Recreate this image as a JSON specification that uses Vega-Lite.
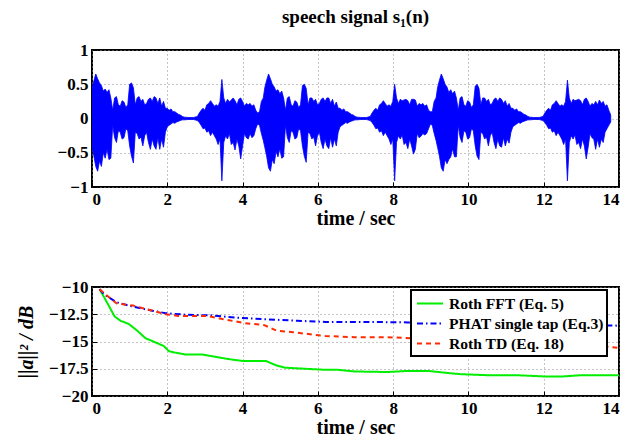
{
  "$schema": "https://vega.github.io/schema/vega-lite/v6.json",
  "background": "white",
  "padding": {"left": 15, "top": 7, "right": 9, "bottom": 4},
  "spacing": 48,
  "config": {
    "font": "Liberation Serif",
    "view": {"stroke": "black", "strokeWidth": 2},
    "axis": {
      "labelFont": "Liberation Serif", "labelFontWeight": "bold", "labelFontSize": 17, "labelColor": "black", "labelOverlap": false,
      "titleFont": "Liberation Serif", "titleFontWeight": "bold", "titleFontSize": 20, "titleColor": "black",
      "domain": false, "tickColor": "black", "tickSize": -5, "tickWidth": 1,
      "grid": true, "gridColor": "#8a8a8a", "gridDash": [1, 3], "gridWidth": 1, "gridOpacity": 1,
      "labelPadding": 9
    },
    "legend": {"strokeWidth": 2},
    "title": {"font": "Liberation Serif", "fontWeight": "bold", "fontSize": 19, "color": "black", "offset": 14}
  },
  "datasets": {
    "sig": [
      {"t":0,"hi":0.45,"lo":-0.40},{"t":0.05,"hi":0.55,"lo":-0.55},{"t":0.10,"hi":0.65,"lo":-0.70},{"t":0.15,"hi":0.58,"lo":-0.77},{"t":0.20,"hi":0.52,"lo":-0.62},{"t":0.25,"hi":0.48,"lo":-0.70},{"t":0.30,"hi":0.40,"lo":-0.50},{"t":0.35,"hi":0.43,"lo":-0.58},{"t":0.40,"hi":0.38,"lo":-0.45},{"t":0.45,"hi":0.42,"lo":-0.60},{"t":0.50,"hi":0.30,"lo":-0.58},{"t":0.55,"hi":0.12,"lo":-0.10},{"t":0.60,"hi":0.30,"lo":-0.28},{"t":0.65,"hi":0.32,"lo":-0.35},{"t":0.70,"hi":0.20,"lo":-0.18},{"t":0.75,"hi":0.18,"lo":-0.20},{"t":0.80,"hi":0.26,"lo":-0.30},{"t":0.85,"hi":0.24,"lo":-0.28},{"t":0.90,"hi":0.16,"lo":-0.15},{"t":0.95,"hi":0.20,"lo":-0.18},
      {"t":1.00,"hi":0.50,"lo":-0.40},{"t":1.05,"hi":0.52,"lo":-0.55},{"t":1.10,"hi":0.45,"lo":-0.65},{"t":1.15,"hi":0.20,"lo":-0.20},{"t":1.20,"hi":0.30,"lo":-0.22},{"t":1.25,"hi":0.32,"lo":-0.30},{"t":1.30,"hi":0.25,"lo":-0.27},{"t":1.35,"hi":0.28,"lo":-0.40},{"t":1.40,"hi":0.20,"lo":-0.25},{"t":1.45,"hi":0.22,"lo":-0.20},{"t":1.50,"hi":0.28,"lo":-0.35},{"t":1.55,"hi":0.30,"lo":-0.45},{"t":1.60,"hi":0.25,"lo":-0.30},{"t":1.65,"hi":0.32,"lo":-0.40},{"t":1.70,"hi":0.30,"lo":-0.45},{"t":1.75,"hi":0.22,"lo":-0.28},{"t":1.80,"hi":0.30,"lo":-0.45},{"t":1.85,"hi":0.18,"lo":-0.30},{"t":1.90,"hi":0.25,"lo":-0.42},{"t":1.95,"hi":0.15,"lo":-0.20},
      {"t":2.00,"hi":0.15,"lo":-0.12},{"t":2.05,"hi":0.12,"lo":-0.10},{"t":2.10,"hi":0.14,"lo":-0.08},{"t":2.15,"hi":0.10,"lo":-0.06},{"t":2.20,"hi":0.10,"lo":-0.07},{"t":2.25,"hi":0.08,"lo":-0.05},{"t":2.30,"hi":0.06,"lo":-0.04},{"t":2.35,"hi":0.05,"lo":-0.03},{"t":2.40,"hi":0.03,"lo":-0.02},{"t":2.45,"hi":0.02,"lo":-0.02},{"t":2.55,"hi":0.015,"lo":-0.015},{"t":2.70,"hi":0.015,"lo":-0.015},{"t":2.80,"hi":0.03,"lo":-0.03},{"t":2.85,"hi":0.08,"lo":-0.06},{"t":2.90,"hi":0.12,"lo":-0.10},{"t":2.95,"hi":0.15,"lo":-0.15},
      {"t":3.00,"hi":0.12,"lo":-0.14},{"t":3.05,"hi":0.20,"lo":-0.20},{"t":3.10,"hi":0.22,"lo":-0.18},{"t":3.15,"hi":0.26,"lo":-0.25},{"t":3.20,"hi":0.22,"lo":-0.20},{"t":3.25,"hi":0.18,"lo":-0.25},{"t":3.30,"hi":0.20,"lo":-0.30},{"t":3.35,"hi":0.18,"lo":-0.38},{"t":3.40,"hi":0.25,"lo":-0.30},{"t":3.45,"hi":0.57,"lo":-0.91},{"t":3.50,"hi":0.30,"lo":-0.35},{"t":3.55,"hi":0.22,"lo":-0.25},{"t":3.60,"hi":0.28,"lo":-0.30},{"t":3.65,"hi":0.24,"lo":-0.22},{"t":3.70,"hi":0.27,"lo":-0.38},{"t":3.75,"hi":0.30,"lo":-0.35},{"t":3.80,"hi":0.26,"lo":-0.46},{"t":3.85,"hi":0.20,"lo":-0.30},{"t":3.90,"hi":0.28,"lo":-0.40},{"t":3.95,"hi":0.30,"lo":-0.59},
      {"t":4.00,"hi":0.25,"lo":-0.40},{"t":4.05,"hi":0.18,"lo":-0.22},{"t":4.10,"hi":0.22,"lo":-0.28},{"t":4.15,"hi":0.20,"lo":-0.30},{"t":4.20,"hi":0.22,"lo":-0.22},{"t":4.25,"hi":0.18,"lo":-0.28},{"t":4.30,"hi":0.20,"lo":-0.25},{"t":4.35,"hi":0.12,"lo":-0.15},{"t":4.40,"hi":0.08,"lo":-0.08},{"t":4.45,"hi":0.10,"lo":-0.10},{"t":4.50,"hi":0.25,"lo":-0.22},{"t":4.55,"hi":0.30,"lo":-0.32},
      {"t":4.59,"hi":0.45,"lo":-0.42},{"t":4.64,"hi":0.56,"lo":-0.55},{"t":4.69,"hi":0.65,"lo":-0.72},{"t":4.74,"hi":0.58,"lo":-0.77},{"t":4.79,"hi":0.50,"lo":-0.60},{"t":4.84,"hi":0.46,"lo":-0.66},{"t":4.89,"hi":0.40,"lo":-0.48},{"t":4.94,"hi":0.42,"lo":-0.56},{"t":4.99,"hi":0.36,"lo":-0.44},{"t":5.04,"hi":0.40,"lo":-0.58},{"t":5.09,"hi":0.30,"lo":-0.56},{"t":5.14,"hi":0.12,"lo":-0.10},{"t":5.19,"hi":0.30,"lo":-0.28},{"t":5.24,"hi":0.32,"lo":-0.35},{"t":5.29,"hi":0.20,"lo":-0.18},{"t":5.34,"hi":0.18,"lo":-0.20},{"t":5.39,"hi":0.26,"lo":-0.30},{"t":5.44,"hi":0.24,"lo":-0.28},{"t":5.49,"hi":0.16,"lo":-0.15},{"t":5.54,"hi":0.20,"lo":-0.18},
      {"t":5.59,"hi":0.48,"lo":-0.40},{"t":5.64,"hi":0.50,"lo":-0.55},{"t":5.69,"hi":0.44,"lo":-0.64},{"t":5.74,"hi":0.20,"lo":-0.20},{"t":5.79,"hi":0.30,"lo":-0.22},{"t":5.84,"hi":0.30,"lo":-0.30},{"t":5.89,"hi":0.25,"lo":-0.27},{"t":5.94,"hi":0.28,"lo":-0.40},{"t":5.99,"hi":0.20,"lo":-0.25},{"t":6.04,"hi":0.22,"lo":-0.20},{"t":6.09,"hi":0.28,"lo":-0.35},{"t":6.14,"hi":0.30,"lo":-0.44},{"t":6.19,"hi":0.25,"lo":-0.30},{"t":6.24,"hi":0.30,"lo":-0.40},{"t":6.29,"hi":0.30,"lo":-0.44},{"t":6.34,"hi":0.22,"lo":-0.28},{"t":6.39,"hi":0.28,"lo":-0.42},{"t":6.44,"hi":0.18,"lo":-0.30},{"t":6.49,"hi":0.24,"lo":-0.40},{"t":6.54,"hi":0.15,"lo":-0.20},
      {"t":6.59,"hi":0.15,"lo":-0.12},{"t":6.64,"hi":0.12,"lo":-0.10},{"t":6.69,"hi":0.14,"lo":-0.08},{"t":6.74,"hi":0.10,"lo":-0.06},{"t":6.79,"hi":0.10,"lo":-0.07},{"t":6.84,"hi":0.08,"lo":-0.05},{"t":6.89,"hi":0.06,"lo":-0.04},{"t":6.94,"hi":0.05,"lo":-0.03},{"t":6.99,"hi":0.03,"lo":-0.02},{"t":7.04,"hi":0.02,"lo":-0.02},{"t":7.14,"hi":0.015,"lo":-0.015},{"t":7.29,"hi":0.015,"lo":-0.015},{"t":7.39,"hi":0.03,"lo":-0.03},{"t":7.44,"hi":0.08,"lo":-0.06},{"t":7.49,"hi":0.12,"lo":-0.10},{"t":7.54,"hi":0.15,"lo":-0.15},
      {"t":7.59,"hi":0.12,"lo":-0.14},{"t":7.64,"hi":0.20,"lo":-0.20},{"t":7.69,"hi":0.22,"lo":-0.18},{"t":7.74,"hi":0.26,"lo":-0.25},{"t":7.79,"hi":0.22,"lo":-0.20},{"t":7.84,"hi":0.18,"lo":-0.25},{"t":7.89,"hi":0.20,"lo":-0.30},{"t":7.94,"hi":0.18,"lo":-0.38},{"t":7.99,"hi":0.25,"lo":-0.30},{"t":8.04,"hi":0.50,"lo":-0.91},{"t":8.09,"hi":0.30,"lo":-0.35},{"t":8.14,"hi":0.22,"lo":-0.25},{"t":8.19,"hi":0.28,"lo":-0.30},{"t":8.24,"hi":0.26,"lo":-0.24},{"t":8.29,"hi":0.27,"lo":-0.38},{"t":8.34,"hi":0.28,"lo":-0.35},{"t":8.39,"hi":0.26,"lo":-0.44},{"t":8.44,"hi":0.20,"lo":-0.30},{"t":8.49,"hi":0.28,"lo":-0.40},{"t":8.54,"hi":0.28,"lo":-0.52},
      {"t":8.59,"hi":0.27,"lo":-0.45},{"t":8.64,"hi":0.18,"lo":-0.22},{"t":8.69,"hi":0.22,"lo":-0.28},{"t":8.74,"hi":0.20,"lo":-0.26},{"t":8.79,"hi":0.22,"lo":-0.22},{"t":8.84,"hi":0.18,"lo":-0.24},{"t":8.89,"hi":0.20,"lo":-0.22},{"t":8.94,"hi":0.12,"lo":-0.15},{"t":8.99,"hi":0.10,"lo":-0.08},{"t":9.04,"hi":0.10,"lo":-0.10},{"t":9.09,"hi":0.25,"lo":-0.22},{"t":9.14,"hi":0.30,"lo":-0.32},
      {"t":9.18,"hi":0.45,"lo":-0.42},{"t":9.23,"hi":0.56,"lo":-0.55},{"t":9.28,"hi":0.65,"lo":-0.72},{"t":9.33,"hi":0.58,"lo":-0.77},{"t":9.38,"hi":0.50,"lo":-0.60},{"t":9.43,"hi":0.46,"lo":-0.66},{"t":9.48,"hi":0.38,"lo":-0.60},{"t":9.53,"hi":0.42,"lo":-0.56},{"t":9.58,"hi":0.36,"lo":-0.44},{"t":9.63,"hi":0.40,"lo":-0.56},{"t":9.68,"hi":0.30,"lo":-0.56},{"t":9.73,"hi":0.12,"lo":-0.10},{"t":9.78,"hi":0.30,"lo":-0.28},{"t":9.83,"hi":0.32,"lo":-0.35},{"t":9.88,"hi":0.20,"lo":-0.18},{"t":9.93,"hi":0.18,"lo":-0.20},{"t":9.98,"hi":0.26,"lo":-0.30},{"t":10.03,"hi":0.24,"lo":-0.28},{"t":10.08,"hi":0.16,"lo":-0.15},{"t":10.13,"hi":0.20,"lo":-0.18},
      {"t":10.18,"hi":0.47,"lo":-0.40},{"t":10.23,"hi":0.50,"lo":-0.55},{"t":10.28,"hi":0.44,"lo":-0.60},{"t":10.33,"hi":0.20,"lo":-0.20},{"t":10.38,"hi":0.30,"lo":-0.22},{"t":10.43,"hi":0.30,"lo":-0.30},{"t":10.48,"hi":0.25,"lo":-0.27},{"t":10.53,"hi":0.28,"lo":-0.40},{"t":10.58,"hi":0.20,"lo":-0.25},{"t":10.63,"hi":0.22,"lo":-0.20},{"t":10.68,"hi":0.28,"lo":-0.35},{"t":10.73,"hi":0.30,"lo":-0.44},{"t":10.78,"hi":0.25,"lo":-0.30},{"t":10.83,"hi":0.30,"lo":-0.40},{"t":10.88,"hi":0.28,"lo":-0.42},{"t":10.93,"hi":0.22,"lo":-0.28},{"t":10.98,"hi":0.26,"lo":-0.40},{"t":11.03,"hi":0.18,"lo":-0.30},{"t":11.08,"hi":0.22,"lo":-0.36},{"t":11.13,"hi":0.15,"lo":-0.20},
      {"t":11.18,"hi":0.15,"lo":-0.12},{"t":11.23,"hi":0.12,"lo":-0.10},{"t":11.28,"hi":0.14,"lo":-0.08},{"t":11.33,"hi":0.10,"lo":-0.06},{"t":11.38,"hi":0.10,"lo":-0.07},{"t":11.43,"hi":0.08,"lo":-0.05},{"t":11.48,"hi":0.06,"lo":-0.04},{"t":11.53,"hi":0.05,"lo":-0.03},{"t":11.58,"hi":0.03,"lo":-0.02},{"t":11.63,"hi":0.02,"lo":-0.02},{"t":11.73,"hi":0.015,"lo":-0.015},{"t":11.88,"hi":0.015,"lo":-0.015},{"t":11.98,"hi":0.03,"lo":-0.03},{"t":12.03,"hi":0.08,"lo":-0.06},{"t":12.08,"hi":0.12,"lo":-0.10},{"t":12.13,"hi":0.15,"lo":-0.15},
      {"t":12.18,"hi":0.12,"lo":-0.14},{"t":12.23,"hi":0.20,"lo":-0.20},{"t":12.28,"hi":0.22,"lo":-0.18},{"t":12.33,"hi":0.26,"lo":-0.25},{"t":12.38,"hi":0.22,"lo":-0.20},{"t":12.43,"hi":0.18,"lo":-0.25},{"t":12.48,"hi":0.20,"lo":-0.30},{"t":12.53,"hi":0.18,"lo":-0.38},{"t":12.58,"hi":0.25,"lo":-0.30},{"t":12.63,"hi":0.56,"lo":-0.91},{"t":12.68,"hi":0.30,"lo":-0.35},{"t":12.73,"hi":0.22,"lo":-0.25},{"t":12.78,"hi":0.28,"lo":-0.30},{"t":12.83,"hi":0.26,"lo":-0.24},{"t":12.88,"hi":0.27,"lo":-0.38},{"t":12.93,"hi":0.28,"lo":-0.35},{"t":12.98,"hi":0.26,"lo":-0.44},{"t":13.03,"hi":0.20,"lo":-0.30},{"t":13.08,"hi":0.28,"lo":-0.40},{"t":13.13,"hi":0.30,"lo":-0.59},
      {"t":13.18,"hi":0.25,"lo":-0.42},{"t":13.23,"hi":0.18,"lo":-0.22},{"t":13.28,"hi":0.22,"lo":-0.28},{"t":13.33,"hi":0.20,"lo":-0.30},{"t":13.38,"hi":0.25,"lo":-0.45},{"t":13.43,"hi":0.20,"lo":-0.30},{"t":13.48,"hi":0.27,"lo":-0.42},{"t":13.53,"hi":0.22,"lo":-0.30},{"t":13.58,"hi":0.25,"lo":-0.35},{"t":13.63,"hi":0.18,"lo":-0.20},{"t":13.68,"hi":0.20,"lo":-0.15},{"t":13.73,"hi":0.12,"lo":-0.10},{"t":13.78,"hi":0.05,"lo":-0.05}
    ],
    "mse": [
      {"t":0.2,"v":-10.2,"s":"Roth FFT (Eq. 5)"},{"t":0.3,"v":-10.8,"s":"Roth FFT (Eq. 5)"},{"t":0.38,"v":-11.3,"s":"Roth FFT (Eq. 5)"},{"t":0.49,"v":-12.0,"s":"Roth FFT (Eq. 5)"},{"t":0.6,"v":-12.7,"s":"Roth FFT (Eq. 5)"},{"t":0.76,"v":-13.1,"s":"Roth FFT (Eq. 5)"},{"t":0.98,"v":-13.4,"s":"Roth FFT (Eq. 5)"},{"t":1.2,"v":-14.0,"s":"Roth FFT (Eq. 5)"},{"t":1.42,"v":-14.7,"s":"Roth FFT (Eq. 5)"},{"t":1.63,"v":-15.0,"s":"Roth FFT (Eq. 5)"},{"t":1.9,"v":-15.4,"s":"Roth FFT (Eq. 5)"},{"t":2.05,"v":-15.9,"s":"Roth FFT (Eq. 5)"},{"t":2.18,"v":-16.0,"s":"Roth FFT (Eq. 5)"},{"t":2.5,"v":-16.2,"s":"Roth FFT (Eq. 5)"},{"t":2.94,"v":-16.2,"s":"Roth FFT (Eq. 5)"},{"t":3.27,"v":-16.4,"s":"Roth FFT (Eq. 5)"},{"t":3.6,"v":-16.6,"s":"Roth FFT (Eq. 5)"},{"t":4.03,"v":-16.8,"s":"Roth FFT (Eq. 5)"},{"t":4.63,"v":-16.8,"s":"Roth FFT (Eq. 5)"},{"t":4.9,"v":-17.2,"s":"Roth FFT (Eq. 5)"},{"t":5.12,"v":-17.4,"s":"Roth FFT (Eq. 5)"},{"t":5.66,"v":-17.5,"s":"Roth FFT (Eq. 5)"},{"t":6.2,"v":-17.6,"s":"Roth FFT (Eq. 5)"},{"t":6.54,"v":-17.6,"s":"Roth FFT (Eq. 5)"},{"t":6.97,"v":-17.75,"s":"Roth FFT (Eq. 5)"},{"t":7.84,"v":-17.8,"s":"Roth FFT (Eq. 5)"},{"t":8.39,"v":-17.7,"s":"Roth FFT (Eq. 5)"},{"t":8.93,"v":-17.7,"s":"Roth FFT (Eq. 5)"},{"t":9.48,"v":-17.9,"s":"Roth FFT (Eq. 5)"},{"t":9.8,"v":-18.0,"s":"Roth FFT (Eq. 5)"},{"t":10.57,"v":-18.1,"s":"Roth FFT (Eq. 5)"},{"t":11.33,"v":-18.1,"s":"Roth FFT (Eq. 5)"},{"t":11.98,"v":-18.2,"s":"Roth FFT (Eq. 5)"},{"t":12.53,"v":-18.2,"s":"Roth FFT (Eq. 5)"},{"t":12.96,"v":-18.1,"s":"Roth FFT (Eq. 5)"},{"t":14,"v":-18.1,"s":"Roth FFT (Eq. 5)"},
      {"t":0.2,"v":-10.2,"s":"PHAT single tap (Eq.3)"},{"t":0.33,"v":-10.7,"s":"PHAT single tap (Eq.3)"},{"t":0.65,"v":-11.4,"s":"PHAT single tap (Eq.3)"},{"t":1.09,"v":-11.8,"s":"PHAT single tap (Eq.3)"},{"t":1.63,"v":-12.2,"s":"PHAT single tap (Eq.3)"},{"t":1.96,"v":-12.4,"s":"PHAT single tap (Eq.3)"},{"t":2.5,"v":-12.55,"s":"PHAT single tap (Eq.3)"},{"t":3.16,"v":-12.6,"s":"PHAT single tap (Eq.3)"},{"t":3.81,"v":-12.8,"s":"PHAT single tap (Eq.3)"},{"t":4.58,"v":-12.95,"s":"PHAT single tap (Eq.3)"},{"t":5.45,"v":-13.1,"s":"PHAT single tap (Eq.3)"},{"t":6.2,"v":-13.2,"s":"PHAT single tap (Eq.3)"},{"t":7.3,"v":-13.2,"s":"PHAT single tap (Eq.3)"},{"t":8.39,"v":-13.25,"s":"PHAT single tap (Eq.3)"},{"t":10,"v":-13.3,"s":"PHAT single tap (Eq.3)"},{"t":12,"v":-13.4,"s":"PHAT single tap (Eq.3)"},{"t":14,"v":-13.55,"s":"PHAT single tap (Eq.3)"},
      {"t":0.2,"v":-10.2,"s":"Roth TD (Eq. 18)"},{"t":0.33,"v":-10.6,"s":"Roth TD (Eq. 18)"},{"t":0.65,"v":-11.5,"s":"Roth TD (Eq. 18)"},{"t":1.09,"v":-11.7,"s":"Roth TD (Eq. 18)"},{"t":1.63,"v":-12.2,"s":"Roth TD (Eq. 18)"},{"t":1.96,"v":-12.5,"s":"Roth TD (Eq. 18)"},{"t":2.29,"v":-12.65,"s":"Roth TD (Eq. 18)"},{"t":3.05,"v":-12.65,"s":"Roth TD (Eq. 18)"},{"t":3.49,"v":-12.95,"s":"Roth TD (Eq. 18)"},{"t":4.03,"v":-13.3,"s":"Roth TD (Eq. 18)"},{"t":4.58,"v":-13.5,"s":"Roth TD (Eq. 18)"},{"t":4.9,"v":-14.0,"s":"Roth TD (Eq. 18)"},{"t":5.34,"v":-14.15,"s":"Roth TD (Eq. 18)"},{"t":6.2,"v":-14.5,"s":"Roth TD (Eq. 18)"},{"t":6.97,"v":-14.6,"s":"Roth TD (Eq. 18)"},{"t":7.84,"v":-14.6,"s":"Roth TD (Eq. 18)"},{"t":8.5,"v":-14.7,"s":"Roth TD (Eq. 18)"},{"t":10,"v":-14.9,"s":"Roth TD (Eq. 18)"},{"t":12,"v":-15.1,"s":"Roth TD (Eq. 18)"},{"t":13.5,"v":-15.4,"s":"Roth TD (Eq. 18)"},{"t":14,"v":-15.6,"s":"Roth TD (Eq. 18)"}
    ]
  },
  "vconcat": [
    {
      "width": 527, "height": 137,
      "title": {"text": "speech signal s₁(n)"},
      "data": {"name": "sig"},
      "mark": {"type": "area", "color": "#0000ff", "stroke": "#0000ff", "strokeWidth": 0.8, "opacity": 1, "clip": true},
      "encoding": {
        "x": {"field": "t", "type": "quantitative", "scale": {"domain": [0, 14], "nice": false, "zero": false},
              "axis": {"title": "time / sec", "values": [0,2,4,6,8,10,12,14], "format": "d", "titlePadding": 1}},
        "y": {"field": "hi", "type": "quantitative", "scale": {"domain": [-1, 1], "nice": false},
              "axis": {"title": null, "values": [-1,-0.5,0,0.5,1], "format": ".2~g"}},
        "y2": {"field": "lo"}
      }
    },
    {
      "width": 527, "height": 109,
      "data": {"name": "mse"},
      "mark": {"type": "line", "strokeWidth": 2, "clip": true},
      "encoding": {
        "x": {"field": "t", "type": "quantitative", "scale": {"domain": [0, 14], "nice": false, "zero": false},
              "axis": {"title": "time / sec", "values": [0,2,4,6,8,10,12,14], "format": "d", "titlePadding": 1}},
        "y": {"field": "v", "type": "quantitative", "scale": {"domain": [-20, -10], "nice": false, "zero": false},
              "axis": {"title": "||a||² / dB", "titleFontStyle": "italic", "values": [-20,-17.5,-15,-12.5,-10], "format": ".3~g", "titlePadding": 12}},
        "color": {"field": "s", "type": "nominal",
                  "scale": {"domain": ["Roth FFT (Eq. 5)", "PHAT single tap (Eq.3)", "Roth TD (Eq. 18)"], "range": ["#00ee00", "#0000ff", "#ff2a00"]},
                  "legend": {"title": null, "orient": "none", "legendX": 319, "legendY": 240, "fillColor": "white", "strokeColor": "black", "padding": 3,
                             "labelFont": "Liberation Serif", "labelFontWeight": "bold", "labelFontSize": 15.6, "labelColor": "black",
                             "symbolType": "M-0.79,0H1.95", "symbolStrokeWidth": 2, "symbolSize": 361, "symbolFillColor": "transparent", "rowPadding": 0, "labelOffset": 14}},
        "strokeDash": {"field": "s", "type": "nominal",
                  "scale": {"domain": ["Roth FFT (Eq. 5)", "PHAT single tap (Eq.3)", "Roth TD (Eq. 18)"], "range": [[1, 0], [6, 3, 1.5, 3], [5, 4]]},
                  "legend": {"title": null, "orient": "none", "legendX": 319, "legendY": 240}},
        "order": {"field": "t", "type": "quantitative"}
      }
    }
  ]
}
